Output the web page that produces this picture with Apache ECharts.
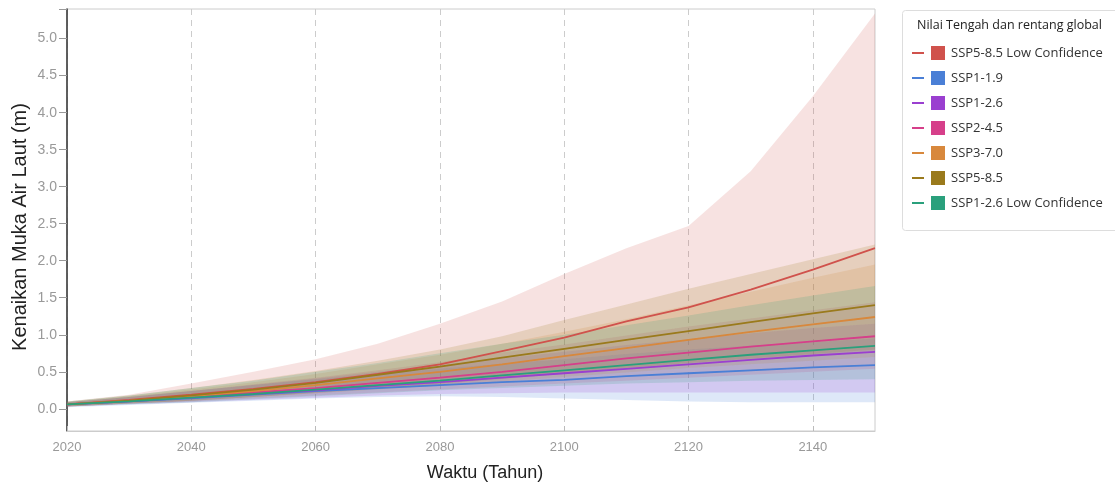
<!DOCTYPE html>
<html>
<head>
<meta charset="utf-8">
<script src="https://cdn.jsdelivr.net/npm/echarts@6/dist/echarts.min.js"></script>
<style>html,body{margin:0;padding:0;background:#fff}#c{width:1115px;height:482px}</style>
</head>
<body>
<div id="c"></div>
<script>
const years = ['2020','2030','2040','2050','2060','2070','2080','2090','2100','2110','2120','2130','2140','2150'];
const yTicks = [0,0.5,1,1.5,2,2.5,3,3.5,4,4.5,5];
const legendTitle = 'Nilai Tengah dan rentang global';

const names = ['SSP5-8.5 Low Confidence','SSP1-1.9','SSP1-2.6','SSP2-4.5','SSP3-7.0','SSP5-8.5','SSP1-2.6 Low Confidence'];
const colors = ['#d0524c','#4a7fd6','#9a3fd0','#d63f8a','#d8883c','#9a7a1c','#2aa07c'];

const ssp585lcMed = [0.06,0.12,0.19,0.27,0.36,0.47,0.60,0.78,0.96,1.18,1.37,1.61,1.88,2.17];
const ssp585lcLow = [0.03,0.07,0.11,0.16,0.21,0.27,0.33,0.40,0.47,0.54,0.60,0.66,0.72,0.78];
const ssp585lcUp  = [0.10,0.19,0.34,0.50,0.67,0.88,1.15,1.45,1.82,2.17,2.47,3.21,4.22,5.34];

const ssp119Med = [0.06,0.10,0.14,0.19,0.24,0.28,0.32,0.36,0.39,0.44,0.48,0.52,0.56,0.59];
const ssp119Low = [0.02,0.05,0.08,0.11,0.14,0.16,0.17,0.16,0.14,0.12,0.10,0.09,0.09,0.09];
const ssp119Up  = [0.09,0.16,0.24,0.32,0.40,0.47,0.54,0.61,0.67,0.74,0.80,0.85,0.90,0.95];

const ssp126Med = [0.06,0.10,0.15,0.20,0.25,0.31,0.36,0.42,0.48,0.54,0.60,0.66,0.72,0.77];
const ssp126Low = [0.03,0.06,0.09,0.12,0.15,0.18,0.20,0.21,0.22,0.22,0.22,0.22,0.22,0.22];
const ssp126Up  = [0.09,0.16,0.24,0.32,0.41,0.50,0.59,0.68,0.77,0.86,0.94,1.02,1.09,1.15];

const ssp245Med = [0.06,0.11,0.16,0.22,0.28,0.35,0.42,0.50,0.59,0.68,0.76,0.84,0.91,0.98];
const ssp245Low = [0.03,0.07,0.10,0.14,0.18,0.22,0.26,0.30,0.34,0.38,0.42,0.46,0.50,0.54];
const ssp245Up  = [0.09,0.16,0.24,0.33,0.42,0.52,0.63,0.76,0.87,0.99,1.11,1.22,1.33,1.44];

const ssp370Med = [0.06,0.11,0.17,0.24,0.32,0.41,0.50,0.60,0.71,0.82,0.93,1.04,1.14,1.24];
const ssp370Low = [0.03,0.07,0.11,0.16,0.21,0.26,0.31,0.37,0.43,0.49,0.55,0.60,0.65,0.70];
const ssp370Up  = [0.09,0.17,0.26,0.36,0.47,0.60,0.73,0.88,1.04,1.21,1.40,1.58,1.77,1.95];

const ssp585Med = [0.06,0.11,0.18,0.26,0.35,0.46,0.57,0.69,0.81,0.93,1.05,1.17,1.29,1.40];
const ssp585Low = [0.03,0.07,0.11,0.16,0.22,0.28,0.34,0.41,0.48,0.55,0.62,0.68,0.74,0.80];
const ssp585Up  = [0.10,0.18,0.28,0.39,0.51,0.65,0.80,0.98,1.20,1.41,1.62,1.82,2.02,2.22];

const ssp126lcMed = [0.06,0.10,0.15,0.20,0.26,0.32,0.38,0.45,0.52,0.59,0.66,0.73,0.79,0.85];
const ssp126lcLow = [0.03,0.06,0.09,0.13,0.17,0.21,0.25,0.28,0.31,0.34,0.36,0.38,0.39,0.40];
const ssp126lcUp  = [0.10,0.18,0.28,0.38,0.50,0.62,0.75,0.88,1.00,1.13,1.26,1.40,1.53,1.66];

const meds = [ssp585lcMed, ssp119Med, ssp126Med, ssp245Med, ssp370Med, ssp585Med, ssp126lcMed];
const lows = [ssp585lcLow, ssp119Low, ssp126Low, ssp245Low, ssp370Low, ssp585Low, ssp126lcLow];
const ups  = [ssp585lcUp, ssp119Up, ssp126Up, ssp245Up, ssp370Up, ssp585Up, ssp126lcUp];

function rgba(hex, a){
  const n = parseInt(hex.slice(1),16);
  return 'rgba(' + ((n>>16)&255) + ',' + ((n>>8)&255) + ',' + (n&255) + ',' + a + ')';
}

const series = [];
names.forEach((nm,k)=>{
  series.push({
    name: nm, type: 'line', stack: 'band'+k, data: lows[k],
    symbol: 'none', lineStyle: {opacity: 0}, silent: true, z: 1
  });
  series.push({
    name: nm, type: 'line', stack: 'band'+k,
    data: ups[k].map((u,i)=>+(u - lows[k][i]).toFixed(3)),
    symbol: 'none', lineStyle: {opacity: 0},
    areaStyle: {color: rgba(colors[k], k === 0 ? 0.24 : 0.26)}, silent: true, z: 1
  });
});
names.forEach((nm,k)=>{
  series.push({
    name: nm, type: 'line', data: meds[k], symbol: 'none',
    lineStyle: {color: colors[k], width: 1.8}, z: 3
  });
});

const lineIcon = 'path://M0,0h0.01v0.01h-0.01z M0,7h12v2h-12z M11.99,15.99h0.01v0.01h-0.01z';

const chart = echarts.init(document.getElementById('c'), null, {renderer: 'canvas'});
chart.setOption({
  animation: false,
  color: colors,
  title: {
    text: legendTitle, left: 917, top: 19, padding: 0,
    textStyle: {fontSize: 12.5, fontWeight: 'normal', color: '#222', fontFamily: 'Open Sans'}
  },
  graphic: [{
    type: 'rect', left: 900, top: 8, shape: {width: 230, height: 220, r: 3},
    style: {fill: 'none', stroke: '#dddddd', lineWidth: 1}, silent: true
  }],
  legend: [
    {
      orient: 'vertical', left: 912, top: 45, padding: 0, itemGap: 9,
      itemWidth: 12, itemHeight: 16, icon: lineIcon,
      formatter: () => '',
      textStyle: {fontSize: 13, lineHeight: 16},
      data: names.map((n,k)=>({name: n, itemStyle: {color: colors[k]}}))
    },
    {
      orient: 'vertical', left: 931, top: 45, padding: 0, itemGap: 9,
      itemWidth: 14, itemHeight: 16, icon: 'path://M0,1h14v14h-14z',
      textStyle: {fontSize: 13, lineHeight: 16, color: '#333', fontFamily: 'Open Sans', padding: [0,0,0,1]},
      data: names.map((n,k)=>({name: n, itemStyle: {color: colors[k]}}))
    }
  ],
  grid: {left: 67, right: 240, top: 9, bottom: 51, show: true, borderColor: '#cccccc', borderWidth: 1,
    containLabel: false, outerBoundsMode: 'none'},
  xAxis: {
    type: 'category', data: years, boundaryGap: false,
    name: 'Waktu (Tahun)', nameLocation: 'middle', nameGap: 33,
    nameTextStyle: {fontSize: 18, color: '#222', fontFamily: 'Liberation Sans', padding: [0,0,0,28]},
    axisLine: {show: true, onZero: false, lineStyle: {color: '#cccccc'}},
    axisTick: {show: true, inside: true, length: 5, interval: 1, lineStyle: {color: '#bbbbbb'}},
    axisLabel: {fontSize: 13, color: '#999', margin: 10, interval: 1, fontFamily: 'Liberation Sans'},
    splitLine: {show: true, interval: 1, lineStyle: {color: '#cccccc', type: [6,5], width: 1}}
  },
  yAxis: {
    type: 'value', min: -0.3, max: 5.4,
    name: 'Kenaikan Muka Air Laut (m)', nameLocation: 'middle', nameGap: 37, nameMoveOverlap: false,
    nameTextStyle: {fontSize: 20, color: '#222', fontFamily: 'Liberation Sans', padding: [0,14,0,0]},
    axisLine: {show: true, lineStyle: {color: '#333', width: 1.5}},
    axisTick: {show: true, length: 8, customValues: yTicks.concat([5.4]), lineStyle: {color: '#999'}},
    axisLabel: {fontSize: 14, color: '#999', margin: 10, fontFamily: 'Liberation Sans',
      customValues: yTicks, formatter: v => v.toFixed(1)},
    splitLine: {show: false}
  },
  series: series
});
</script>
</body>
</html>
